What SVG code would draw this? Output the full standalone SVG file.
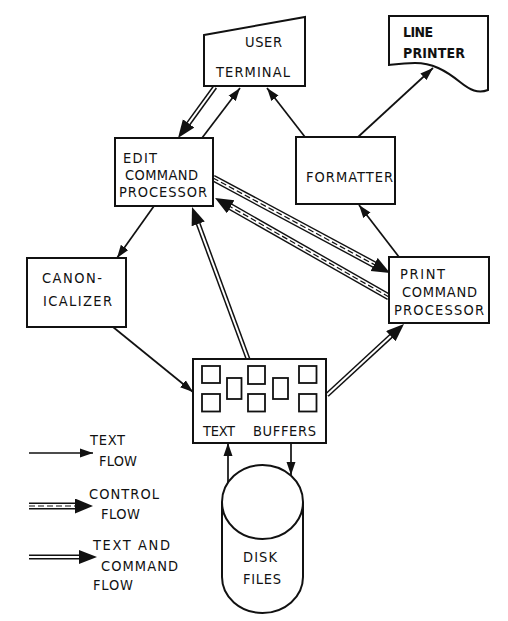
<svg xmlns="http://www.w3.org/2000/svg" width="508" height="621" viewBox="0 0 508 621">
<style>
.box{fill:#fff;stroke:#111;stroke-width:2}
.sq{fill:none;stroke:#111;stroke-width:1.8}
text{font-family:"Liberation Sans Narrow","DejaVu Sans Condensed","Liberation Sans",Arial,sans-serif;font-size:14.5px;fill:#111}
.b{font-weight:bold;font-size:14px}
.s{fill:none;stroke:#111;stroke-width:1.7}
.o{fill:none;stroke:#111;stroke-width:5}
.w{fill:none;stroke:#fff;stroke-width:2}
.co{fill:none;stroke:#111;stroke-width:7}
.cw{fill:none;stroke:#fff;stroke-width:4.2}
.cd{fill:none;stroke:#111;stroke-width:1.2;stroke-dasharray:6 3}
.hd{fill:none;stroke:none}
</style>
<defs>
<marker id="ah" markerUnits="userSpaceOnUse" markerWidth="14" markerHeight="10" refX="13" refY="5" orient="auto"><path d="M0,0.5 L13,5 L0,9.5 z" fill="#111"/></marker>
<marker id="ah2" markerUnits="userSpaceOnUse" markerWidth="19" markerHeight="15" refX="9" refY="7" orient="auto"><path d="M0,0 L18,7 L0,14 z" fill="#111"/></marker>
<marker id="ah3" markerUnits="userSpaceOnUse" markerWidth="19" markerHeight="16" refX="7" refY="7.5" orient="auto"><path d="M0,0 L18,7.5 L0,15 z" fill="#111"/></marker>
</defs>
<rect width="508" height="621" fill="#fff"/>

<g id="connectors">
<path class="s" d="M202,138 L240,88" marker-end="url(#ah)"/>
<path class="s" d="M305,137 L267,88" marker-end="url(#ah)"/>
<path class="s" d="M358,137 L433,68" marker-end="url(#ah)"/>
<path class="s" d="M399,257 L359,205" marker-end="url(#ah)"/>
<path class="s" d="M154,206 L117,258" marker-end="url(#ah)"/>
<path class="s" d="M113,327 L193,392" marker-end="url(#ah)"/>
<path class="s" d="M228,482 L228,443" marker-end="url(#ah)"/>
<path class="s" d="M291,443 L291,475" marker-end="url(#ah)"/>

<path class="o" d="M215,87 L183.3,130.7"/><path class="w" d="M215,87 L183.3,130.7"/><path class="hd" d="M215,87 L183.3,130.7" marker-end="url(#ah2)"/>
<path class="o" d="M248,359 L195.1,215.4"/><path class="w" d="M248,359 L195.1,215.4"/><path class="hd" d="M248,359 L195.1,215.4" marker-end="url(#ah2)"/>
<path class="o" d="M327,395 L397.4,330.1"/><path class="w" d="M327,395 L397.4,330.1"/><path class="hd" d="M327,395 L397.4,330.1" marker-end="url(#ah2)"/>

<path class="co" d="M213,178 L380.3,267.8"/><path class="cw" d="M213,178 L380.3,267.8"/><path class="cd" d="M213,178 L380.3,267.8"/><path class="hd" d="M213,178 L380.3,267.8" marker-end="url(#ah3)"/>
<path class="co" d="M389,297 L224.6,203.4"/><path class="cw" d="M389,297 L224.6,203.4"/><path class="cd" d="M389,297 L224.6,203.4"/><path class="hd" d="M389,297 L224.6,203.4" marker-end="url(#ah3)"/>
</g>

<g id="user-terminal">
<path class="box" d="M204,35 L305,17 L305,86 L204,86 Z"/>
<text x="245" y="47" textLength="37" lengthAdjust="spacing">USER</text>
<text x="216" y="77" textLength="74" lengthAdjust="spacing">TERMINAL</text>
</g>

<g id="line-printer">
<path class="box" d="M389,16 H488 V90 C478,94 470,90 460,82 C445,70 432,63 415,63 C400,63 392,65 389,65 Z"/>
<text class="b" x="403" y="37" textLength="30" lengthAdjust="spacing">LINE</text>
<text class="b" x="403" y="58" textLength="62" lengthAdjust="spacing">PRINTER</text>
</g>

<g id="edit-command-processor">
<rect class="box" x="115" y="138" width="98" height="68"/>
<text x="123" y="163" textLength="34" lengthAdjust="spacing">EDIT</text>
<text x="125" y="180" textLength="73" lengthAdjust="spacing">COMMAND</text>
<text x="119" y="197" textLength="88" lengthAdjust="spacing">PROCESSOR</text>
</g>

<g id="formatter">
<rect class="box" x="296" y="137" width="99" height="67"/>
<text x="306" y="182" textLength="87" lengthAdjust="spacing">FORMATTER</text>
</g>

<g id="print-command-processor">
<rect class="box" x="389" y="257" width="100" height="66"/>
<text x="400" y="279" textLength="45" lengthAdjust="spacing">PRINT</text>
<text x="402" y="297" textLength="75" lengthAdjust="spacing">COMMAND</text>
<text x="394" y="315" textLength="90" lengthAdjust="spacing">PROCESSOR</text>
</g>

<g id="canonicalizer">
<rect class="box" x="27" y="258" width="99" height="69"/>
<text x="42" y="283" textLength="60" lengthAdjust="spacing">CANON-</text>
<text x="43" y="306" textLength="69" lengthAdjust="spacing">ICALIZER</text>
</g>

<g id="text-buffers">
<rect class="box" x="193" y="359" width="133" height="84"/>
<rect class="sq" x="202" y="366" width="18" height="17"/>
<rect class="sq" x="202" y="394" width="18" height="17.5"/>
<rect class="sq" x="227" y="378" width="14.5" height="21"/>
<rect class="sq" x="248" y="366" width="17" height="18"/>
<rect class="sq" x="248" y="394" width="17" height="17.5"/>
<rect class="sq" x="273" y="378" width="15" height="21"/>
<rect class="sq" x="299" y="366" width="17.5" height="17"/>
<rect class="sq" x="299" y="394" width="17.5" height="17.5"/>
<text x="203" y="436" textLength="32" lengthAdjust="spacing">TEXT</text>
<text x="253" y="436" textLength="63" lengthAdjust="spacing">BUFFERS</text>
</g>

<g id="disk-files">
<path class="box" d="M222,502 V577 A40.5,36 0 0 0 303,577 V502"/>
<ellipse class="box" cx="262.5" cy="502" rx="40.5" ry="37"/>
<text x="243" y="562" textLength="34" lengthAdjust="spacing">DISK</text>
<text x="243" y="584" textLength="38" lengthAdjust="spacing">FILES</text>
</g>

<g id="legend">
<path class="s" d="M29,453 L93,453" marker-end="url(#ah)"/>
<text x="90" y="445" textLength="35" lengthAdjust="spacing">TEXT</text>
<text x="99" y="466" textLength="38" lengthAdjust="spacing">FLOW</text>
<path class="co" d="M29,506 L82,506"/><path class="cw" d="M29,506 L82,506"/><path class="cd" d="M29,506 L82,506"/><path class="hd" d="M29,506 L82,506" marker-end="url(#ah3)"/>
<text x="89" y="499" textLength="70" lengthAdjust="spacing">CONTROL</text>
<text x="101" y="519" textLength="39" lengthAdjust="spacing">FLOW</text>
<path class="o" d="M29,557 L88,557"/><path class="w" d="M29,557 L88,557"/><path class="hd" d="M29,557 L88,557" marker-end="url(#ah2)"/>
<text x="93" y="550" textLength="77" lengthAdjust="spacing">TEXT AND</text>
<text x="101" y="571" textLength="77" lengthAdjust="spacing">COMMAND</text>
<text x="93" y="590" textLength="40" lengthAdjust="spacing">FLOW</text>
</g>
</svg>
